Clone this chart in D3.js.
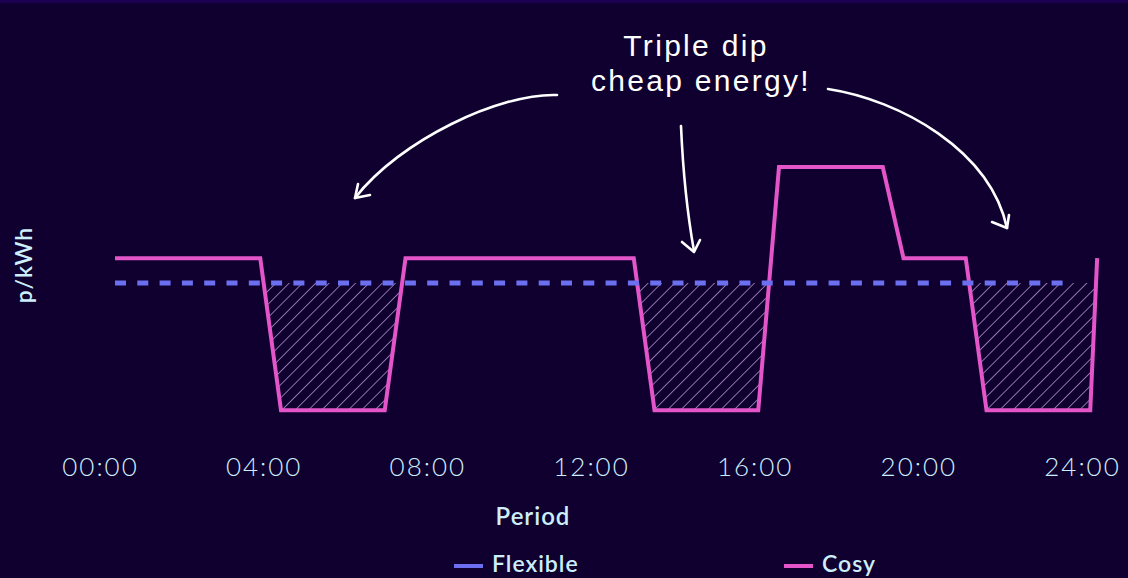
<!DOCTYPE html>
<html>
<head>
<meta charset="utf-8">
<script src="https://cdn.jsdelivr.net/npm/d3@7"></script>
<style>
  html, body { margin: 0; padding: 0; background: #0f002f; }
  svg { display: block; }
</style>
</head>
<body>
<svg id="chart" width="1128" height="578"></svg>
<script>
// ---------- data ----------
const cosyPeriods = [
  "00:00","00:30","01:00","01:30","02:00","02:30","03:00","03:30",
  "04:00","04:30","05:00","05:30","06:00","06:30",
  "07:00","07:30","08:00","08:30","09:00","09:30","10:00","10:30","11:00","11:30","12:00","12:30",
  "13:00","13:30","14:00","14:30","15:00","15:30",
  "16:00","16:30","17:00","17:30","18:00","18:30",
  "19:00","19:30","20:00","20:30",
  "21:00","21:30","22:00","22:30","23:00","23:30",
  "23:40"
];
const cosyRates = [
  30.6,30.6,30.6,30.6,30.6,30.6,30.6,30.6,
  11.6,11.6,11.6,11.6,11.6,11.6,
  30.6,30.6,30.6,30.6,30.6,30.6,30.6,30.6,30.6,30.6,30.6,30.6,
  11.6,11.6,11.6,11.6,11.6,11.6,
  42.0,42.0,42.0,42.0,42.0,42.0,
  30.6,30.6,30.6,30.6,
  11.6,11.6,11.6,11.6,11.6,11.6,
  30.6
];
const flexiblePeriods = [
  "00:00","00:30","01:00","01:30","02:00","02:30","03:00","03:30",
  "04:00","04:30","05:00","05:30","06:00","06:30","07:00","07:30",
  "08:00","08:30","09:00","09:30","10:00","10:30","11:00","11:30",
  "12:00","12:30","13:00","13:30","14:00","14:30","15:00","15:30",
  "16:00","16:30","17:00","17:30","18:00","18:30","19:00","19:30",
  "20:00","20:30","21:00","21:30","22:00","22:30","23:00"
];
const flexibleRates = [
  27.5,27.5,27.5,27.5,27.5,27.5,27.5,27.5,
  27.5,27.5,27.5,27.5,27.5,27.5,27.5,27.5,
  27.5,27.5,27.5,27.5,27.5,27.5,27.5,27.5,
  27.5,27.5,27.5,27.5,27.5,27.5,27.5,27.5,
  27.5,27.5,27.5,27.5,27.5,27.5,27.5,27.5,
  27.5,27.5,27.5,27.5,27.5,27.5,27.5
];
const tickHours = [0, 4, 8, 12, 16, 20, 24];
const tickLabels = ["00:00","04:00","08:00","12:00","16:00","20:00","24:00"];
const seriesNames = ["Flexible", "Cosy"];
const annotationLines = ["Triple dip", "cheap energy!"];

// ---------- helpers ----------
const toHours = s => { const [h, m] = s.split(":").map(Number); return h + m / 60; };
const cosy = cosyPeriods.map((p, i) => ({ t: toHours(p), v: cosyRates[i] }));
const flex = flexiblePeriods.map((p, i) => ({ t: toHours(p), v: flexibleRates[i] }));

// ---------- colours ----------
const BG = "#0f002f";
const TEXT = "#cdeefb";
const PINK = "#e455c9";
const BLUE = "#6c70f0";
const HATCH = "#d0b0ee";

const svg = d3.select("#chart");
svg.append("rect").attr("width", 1128).attr("height", 578).attr("fill", BG);
svg.append("rect").attr("width", 1128).attr("height", 3).attr("fill", "#1c0052");

// ---------- scales ----------
const x = d3.scaleLinear().domain([0, 24]).range([115, 1111]);
const xTicks = d3.scaleLinear().domain([0, 24]).range([100, 1082]);
const y = d3.scaleLinear().domain([0, 50]).range([503, 103]);

// ---------- hatch pattern ----------
const defs = svg.append("defs");
const pat = defs.append("pattern")
  .attr("id", "hatch")
  .attr("patternUnits", "userSpaceOnUse")
  .attr("width", 9.4).attr("height", 9.4)
  .attr("patternTransform", "rotate(45)");
pat.append("line")
  .attr("x1", 0).attr("y1", 0).attr("x2", 0).attr("y2", 9.4)
  .attr("stroke", HATCH).attr("stroke-width", 1.3);

const flexTop = y(d3.max(flexibleRates));
defs.append("clipPath").attr("id", "belowFlex")
  .append("rect")
  .attr("x", 0).attr("y", flexTop).attr("width", 1128).attr("height", 578 - flexTop);

const flexAt = t => {
  const idx = d3.bisector(d => d.t).right(flex, t) - 1;
  return flex[Math.max(0, Math.min(flex.length - 1, idx))].v;
};

// hatched area between cosy and flexible where cosy is cheaper
const area = d3.area()
  .x(d => x(d.t))
  .y0(d => y(flexAt(d.t)))
  .y1(d => y(d.v));
svg.append("path")
  .datum(cosy)
  .attr("d", area)
  .attr("fill", "url(#hatch)")
  .attr("clip-path", "url(#belowFlex)");

// ---------- lines ----------
const line = d3.line().x(d => x(d.t)).y(d => y(d.v));
svg.append("path")
  .datum(cosy)
  .attr("d", line)
  .attr("fill", "none")
  .attr("stroke", PINK)
  .attr("stroke-width", 4)
  .attr("stroke-linejoin", "miter");

svg.append("path")
  .datum(flex)
  .attr("d", line)
  .attr("fill", "none")
  .attr("stroke", BLUE)
  .attr("stroke-width", 5)
  .attr("stroke-dasharray", "11,11.3");

// ---------- x axis ----------
const xAxis = d3.axisBottom(xTicks)
  .tickValues(tickHours)
  .tickFormat((d, i) => tickLabels[i])
  .tickSize(0)
  .tickPadding(0);
const gx = svg.append("g").attr("transform", "translate(0,476)").call(xAxis);
gx.select(".domain").remove();
gx.selectAll("text")
  .attr("dy", 0)
  .attr("fill", TEXT)
  .style("font-family", "Lato, 'Noto Sans', sans-serif")
  .style("font-weight", 300)
  .style("font-size", "26px")
  .style("letter-spacing", "2px");

// axis titles
svg.append("text")
  .attr("x", 533).attr("y", 525)
  .attr("text-anchor", "middle")
  .attr("fill", TEXT)
  .style("font-family", "Lato, 'Noto Sans', sans-serif")
  .style("font-weight", 600)
  .style("font-size", "24px")
  .style("letter-spacing", "1px")
  .text("Period");

svg.append("text")
  .attr("transform", "translate(32,265) rotate(-90)")
  .attr("text-anchor", "middle")
  .attr("fill", TEXT)
  .style("font-family", "Lato, 'Noto Sans', sans-serif")
  .style("font-weight", 600)
  .style("font-size", "23px")
  .style("letter-spacing", "1px")
  .text("p/kWh");

// ---------- legend ----------
const legendX = [454, 784];
const legendColors = [BLUE, PINK];
const lg = svg.append("g");
seriesNames.forEach((name, i) => {
  lg.append("line")
    .attr("x1", legendX[i]).attr("x2", legendX[i] + 29)
    .attr("y1", 566).attr("y2", 566)
    .attr("stroke", legendColors[i]).attr("stroke-width", 4);
  lg.append("text")
    .attr("x", legendX[i] + 38).attr("y", 572)
    .attr("fill", TEXT)
    .style("font-family", "Lato, 'Noto Sans', sans-serif")
    .style("font-weight", 600)
    .style("font-size", "23px")
    .style("letter-spacing", "1px")
    .text(name);
});

// ---------- annotation ----------
const ann = svg.append("g").attr("fill", "#ffffff")
  .style("font-family", "'Liberation Sans', Arial, sans-serif")
  .style("font-size", "30px")
  .style("letter-spacing", "2.3px");
ann.append("text").attr("x", 696).attr("y", 56).attr("text-anchor", "middle").text(annotationLines[0]);
ann.append("text").attr("x", 701).attr("y", 91).attr("text-anchor", "middle").text(annotationLines[1]);

const arrows = [
  "M557,95 C500,93 400,140 355,198",
  "M370,195 L355,198 L358,184",
  "M681,126 Q684,195 694,251",
  "M682,242 L694,252 L700,240",
  "M828,89 C900,100 990,150 1007,228",
  "M992,222 L1007,228 L1009,215"
];
svg.append("g").selectAll("path").data(arrows).join("path")
  .attr("d", d => d)
  .attr("fill", "none")
  .attr("stroke", "#ffffff")
  .attr("stroke-width", 2.6)
  .attr("stroke-linecap", "round")
  .attr("stroke-linejoin", "round");
</script>
</body>
</html>
